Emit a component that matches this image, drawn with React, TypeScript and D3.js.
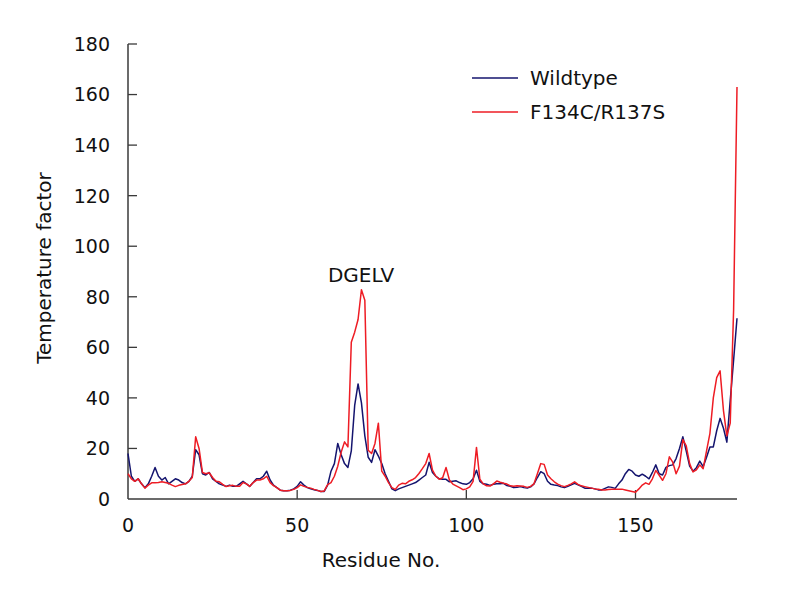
import React, { useEffect, useRef } from 'react';
import * as d3 from 'd3';

// B-factor per residue (0..180)
const wildtype = [
  18, 9, 7, 8, 6, 4.5, 6, 9, 12.5, 9, 7.5, 8.5, 6, 7, 8, 7.5, 6.5, 6, 7, 9,
  19.5, 17.5, 10, 9.5, 10.5, 8, 7, 6, 5.5, 5, 5.5, 5, 5, 6, 7, 6, 5, 6.5, 8, 8,
  9, 11, 7.5, 5.5, 4.5, 3.5, 3.3, 3.3, 3.5, 4, 5, 6.8, 5.5, 4.5, 4, 3.7, 3.4, 3, 3, 5.5,
  11, 14, 22, 17.5, 14, 12.5, 19, 37, 45.5, 38, 25, 16.5, 14.5, 19.5, 17, 14, 10, 7, 4, 3.3,
  4, 4.5, 5, 5.5, 6, 6.5, 7.5, 8.5, 9.5, 14.5, 10.5, 9, 8, 7.8, 7.8, 6.8, 7, 7.2, 6.5, 6,
  5.8, 6.5, 8, 11.4, 7, 6, 5.8, 5.4, 5.8, 6, 6, 6.2, 5.3, 5, 4.5, 4.6, 4.9, 4.5, 4.3, 4.8,
  6, 8.5, 10.8, 10, 7, 5.8, 5.5, 5.3, 4.8, 4.5, 5, 5.6, 6.2, 5.6, 5, 4.3, 4.3, 4.3, 4, 3.6,
  3.6, 4.2, 4.8, 4.6, 4.2, 6, 7.5, 10, 11.7, 11, 9.5, 9, 9.8, 9, 8, 10.5, 13.5, 10, 9.5, 12.5,
  13.2, 13.5, 16, 20, 24.6, 19, 13, 11, 12.4, 15, 12.8, 16.5, 20.6, 20.6, 27, 31.9, 28, 22.5, 39, 55,
  71.5,
];

const mutant = [
  10, 8, 7, 8, 6, 4.3, 5.5, 6.4, 6.4, 6.5, 6.8, 6.5, 6.2, 5.5, 4.9, 5.4, 5.7, 6, 7, 8.5,
  24.6, 20, 10.5, 10, 10.4, 8.5, 7, 6.8, 5.8, 4.9, 5.2, 5.4, 5, 5, 6.5, 6, 5, 6.5, 7.5, 7.5,
  8, 9, 6.5, 5.3, 4.5, 3.5, 3.3, 3.3, 3.4, 3.8, 4.5, 5.6, 5, 4.6, 4.3, 3.8, 3.4, 3, 3.2, 5.7,
  6.5, 9, 13, 18.5, 22.6, 20.6, 62, 66, 71, 82.8, 78.6, 19.3, 18, 22, 30, 11, 9, 6.5, 4.5, 3.8,
  5.5, 6.2, 6, 7, 7.6, 8.5, 10.1, 12, 14, 18, 11.4, 9, 7.8, 8.4, 12.5, 7.5, 5.9, 5.2, 4.5, 3.7,
  4, 4.8, 7, 20.4, 7.8, 6, 5.2, 5.1, 6, 7.1, 6.6, 6.2, 5.9, 5.2, 5, 5.2, 5.1, 5, 4.6, 5,
  6, 10, 14, 13.7, 9.5, 8, 6.8, 5.9, 5.3, 4.9, 5.4, 6, 6.8, 5.8, 5.2, 4.9, 4.6, 4.3, 4, 3.9,
  3.6, 3.6, 3.8, 3.9, 3.9, 3.9, 3.9, 3.6, 3.3, 3, 2.7, 4, 5.5, 6.4, 5.8, 8, 11.3, 9.4, 7.4, 10,
  16.7, 14.6, 10, 13, 23.5, 21, 14, 10.7, 11.5, 13.5, 12, 19, 26, 40, 48, 50.7, 35, 25, 30, 75,
  163,
];

const xTicks = [0, 50, 100, 150];
const yTicks = [0, 20, 40, 60, 80, 100, 120, 140, 160, 180];

const seriesNames = ['Wildtype', 'F134C/R137S'];
const seriesColors = ['#14146e', '#ee1c24'];

const App = () => {
  const chartRef = useRef<SVGSVGElement | null>(null);

  useEffect(() => {
    const svg = d3.select(chartRef.current);
    svg.selectAll('*').remove();

    const font = 'Tahoma, "DejaVu Sans", Verdana, sans-serif';
    const left = 128;
    const right = 737;
    const top = 44;
    const bottom = 499;

    const x = d3.scaleLinear().domain([0, 180]).range([left, right]);
    const y = d3.scaleLinear().domain([0, 180]).range([bottom, top]);

    const g = svg.append('g').style('font-family', font).attr('fill', '#111');

    // ejes con ticks hacia dentro
    const axisColor = '#3a3a3a';
    g.append('line')
      .attr('x1', left).attr('x2', left)
      .attr('y1', y(180)).attr('y2', bottom)
      .attr('stroke', axisColor).attr('stroke-width', 1.5);
    g.append('line')
      .attr('x1', left).attr('x2', right)
      .attr('y1', bottom).attr('y2', bottom)
      .attr('stroke', axisColor).attr('stroke-width', 1.5);

    g.selectAll('.ytick')
      .data(yTicks.filter(d => d > 0))
      .enter()
      .append('line')
      .attr('x1', left).attr('x2', left + 9)
      .attr('y1', d => y(d)).attr('y2', d => y(d))
      .attr('stroke', axisColor).attr('stroke-width', 1.3);

    g.selectAll('.xtick')
      .data(xTicks.filter(d => d > 0))
      .enter()
      .append('line')
      .attr('x1', d => x(d)).attr('x2', d => x(d))
      .attr('y1', bottom).attr('y2', bottom - 9)
      .attr('stroke', axisColor).attr('stroke-width', 1.3);

    g.selectAll('.ylabel')
      .data(yTicks)
      .enter()
      .append('text')
      .attr('x', 110)
      .attr('y', d => y(d))
      .attr('dy', '0.36em')
      .attr('text-anchor', 'end')
      .style('font-size', '19px')
      .text(d => d);

    g.selectAll('.xlabel')
      .data(xTicks)
      .enter()
      .append('text')
      .attr('x', d => x(d))
      .attr('y', 532)
      .attr('text-anchor', 'middle')
      .style('font-size', '19px')
      .text(d => d);

    // titulos de ejes
    g.append('text')
      .attr('x', 381)
      .attr('y', 567)
      .attr('text-anchor', 'middle')
      .style('font-size', '20px')
      .text('Residue No.');

    g.append('text')
      .attr('transform', 'translate(51,268) rotate(-90)')
      .attr('text-anchor', 'middle')
      .style('font-size', '20px')
      .text('Temperature factor');

    // lineas
    const line = d3
      .line<number>()
      .x((d, i) => x(i))
      .y(d => y(d));

    [wildtype, mutant].forEach((s, k) => {
      g.append('path')
        .datum(s)
        .attr('fill', 'none')
        .attr('stroke', seriesColors[k])
        .attr('stroke-width', 1.5)
        .attr('stroke-linejoin', 'round')
        .attr('d', line);
    });

    // etiqueta del pico
    g.append('text')
      .attr('x', 361)
      .attr('y', 282)
      .attr('text-anchor', 'middle')
      .style('font-size', '20px')
      .text('DGELV');

    // leyenda
    const legend = g
      .selectAll('.legend-item')
      .data(seriesNames)
      .enter()
      .append('g')
      .attr('transform', (d, i) => `translate(472, ${78 + i * 34})`);

    legend
      .append('line')
      .attr('x1', 0).attr('x2', 46)
      .attr('stroke', (d, i) => seriesColors[i])
      .attr('stroke-width', 1.5);

    legend
      .append('text')
      .attr('x', 58)
      .attr('dy', '0.36em')
      .style('font-size', '20px')
      .text(d => d);
  }, []);

  return (
    <svg
      ref={chartRef}
      width={800}
      height={595}
      style={{ position: 'absolute', left: 0, top: 0, background: '#fff' }}
    />
  );
};

export default App;
